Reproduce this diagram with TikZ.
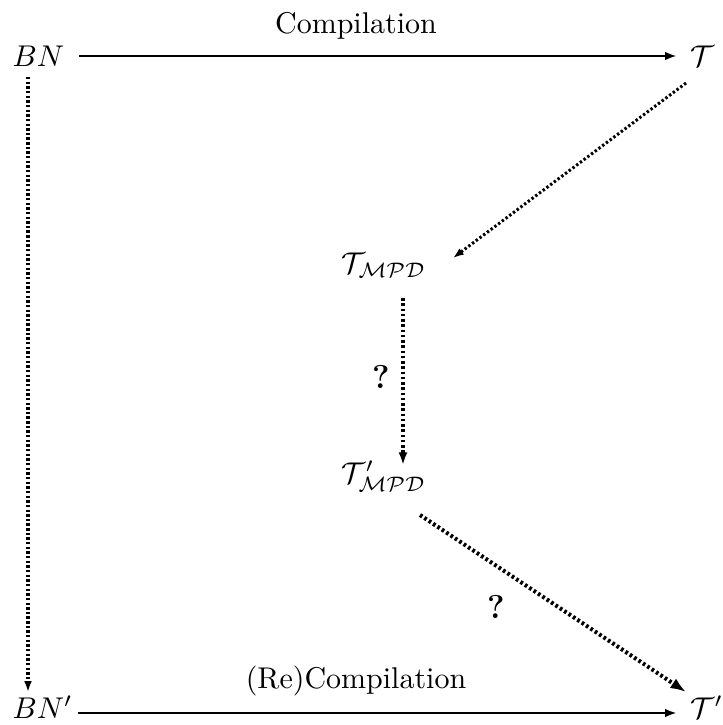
\documentclass[tikz,border=0pt]{standalone}
\usetikzlibrary{arrows.meta}
\begin{document}
\begin{tikzpicture}[x=0.3333pt,y=-0.3333pt,
  lbl/.style={inner sep=3.33pt},
  solidarrow/.style={line width=0.85pt,-{Latex[length=4pt,width=2.9pt]}},
  thindot/.style={line width=1.0pt,dash pattern=on 0.8pt off 0.75pt,-{Latex[length=3.6pt,width=2.6pt]}},
  bolddot/.style={line width=1.35pt,dash pattern=on 0.9pt off 0.85pt,-{Latex[length=4.2pt,width=3pt]}},
  bigtip/.style={-{Latex[length=5.2pt,width=3.8pt]}},
  qlbl/.style={font=\fontsize{11}{13}\selectfont\bfseries}]
\useasboundingbox (0,0) rectangle (723,725);
\node[lbl,anchor=base west] (bn) at (2,66) {$BN$};
\node[lbl,anchor=base west] (t) at (680,66) {$\mathcal{T}$};
\node[lbl,anchor=base] (tm) at (384,273) {$\mathcal{T}_{\mathcal{MPD}}$};
\node[lbl,anchor=base] (tm2) at (384,483) {$\mathcal{T}'_{\mathcal{MPD}}$};
\node[lbl,anchor=base west] (bn2) at (2,718) {$BN'$};
\node[lbl,anchor=base west] (t2) at (680,718) {$\mathcal{T}'$};
\node[lbl,anchor=base] (c1) at (356,33) {Compilation};
\node[lbl,anchor=base] (c2) at (356,688) {(Re)Compilation};
\node[qlbl] (q1) at (381,377) {?};
\node[qlbl] (q2) at (496,607) {?};
\draw[solidarrow] ([shift={(77,-10)}]bn.base west) -- ([shift={(-3,-10)}]t.base west);
\draw[solidarrow] ([shift={(76,-5)}]bn2.base west) -- ([shift={(-3,-5)}]t2.base west);
\draw[thindot] ([shift={(26,11)}]bn.base west) -- ([shift={(26,-26)}]bn2.base west);
\draw[thindot] ([shift={(6,17)}]t.base west) -- ([shift={(69,-15)}]tm.base);
\draw[bolddot] ([shift={(19,25)}]tm.base) -- ([shift={(19,-18)}]tm2.base);
\draw[bolddot,bigtip] ([shift={(36,32)}]tm2.base) -- ([shift={(6,-26)}]t2.base west);
\end{tikzpicture}
\end{document}
